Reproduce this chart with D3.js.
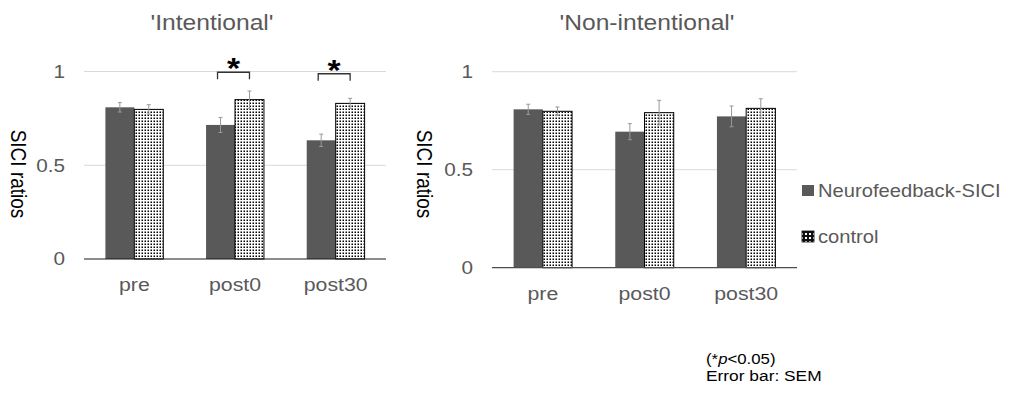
<!DOCTYPE html>
<html>
<head>
<meta charset="utf-8">
<script src="https://cdn.jsdelivr.net/npm/d3@7"></script>
<style>
  html, body { margin: 0; padding: 0; background: #fff; }
  svg { display: block; font-family: "Liberation Sans", Arial, sans-serif; }
</style>
</head>
<body>
<svg id="chart" width="1010" height="393"></svg>
<script>
// ---------- data ----------
const categories = ["pre", "post0", "post30"];
const seriesNames = ["Neurofeedback-SICI", "control"];
const yTicks = [0, 0.5, 1];

const intentionalNF = [0.809, 0.715, 0.633];
const intentionalCtrl = [0.798, 0.850, 0.830];
const intentionalNFErr = [0.025, 0.040, 0.033];
const intentionalCtrlErr = [0.025, 0.046, 0.027];

const nonIntNF = [0.808, 0.694, 0.772];
const nonIntCtrl = [0.798, 0.791, 0.813];
const nonIntNFErr = [0.026, 0.041, 0.053];
const nonIntCtrlErr = [0.022, 0.063, 0.049];

const sigCategories = ["post0", "post30"];
const sigBracketY = [0.996, 0.988];

const panelTitles = ["'Intentional'", "'Non-intentional'"];
const yLabel = "SICI ratios";

// ---------- setup ----------
const SX = 1.12; // horizontal text stretch
const svg = d3.select("#chart");
const defs = svg.append("defs");

const pat = defs.append("pattern").attr("id", "dots")
  .attr("patternUnits", "userSpaceOnUse").attr("width", 3).attr("height", 3);
pat.append("rect").attr("width", 3).attr("height", 3).attr("fill", "#fff");
pat.append("rect").attr("x", 0.5).attr("y", 0.5).attr("width", 1.5).attr("height", 1.5).attr("fill", "#000");

const lpat = defs.append("pattern").attr("id", "ldots")
  .attr("patternUnits", "userSpaceOnUse").attr("width", 4).attr("height", 4);
lpat.append("rect").attr("width", 4).attr("height", 4).attr("fill", "#111");
lpat.append("rect").attr("x", 1).attr("y", 1).attr("width", 2).attr("height", 2).attr("fill", "#fff");

function stext(sel, x, y, str, size, color, anchor, extra) {
  return sel.append("text")
    .attr("transform", `translate(${x},${y}) scale(${SX},1)` + (extra || ""))
    .attr("text-anchor", anchor || "start")
    .attr("font-size", size)
    .attr("fill", color)
    .text(str);
}

const panels = [
  { title: panelTitles[0], nf: intentionalNF, ctrl: intentionalCtrl, nfErr: intentionalNFErr, ctrlErr: intentionalCtrlErr,
    x0: 84, x1: 386, y0: 259, y1: 71.5, titleX: 212, ylabX: 11, base: "#1a1a1a", sig: true },
  { title: panelTitles[1], nf: nonIntNF, ctrl: nonIntCtrl, nfErr: nonIntNFErr, ctrlErr: nonIntCtrlErr,
    x0: 492, x1: 797, y0: 267.7, y1: 71.7, titleX: 647, ylabX: 417, base: "#4d4d4d", sig: false }
];

panels.forEach(p => {
  const g = svg.append("g");
  const x = d3.scaleBand().domain(categories).range([p.x0, p.x1]).padding(0);
  const y = d3.scaleLinear().domain([0, 1]).range([p.y0, p.y1]);
  const groupW = x.bandwidth() * 0.575;
  const xs = d3.scaleBand().domain(seriesNames)
    .range([(x.bandwidth() - groupW) / 2, (x.bandwidth() + groupW) / 2]).padding(0);

  // gridlines
  g.selectAll("line.grid").data(yTicks.filter(t => t > 0)).join("line")
    .attr("x1", p.x0).attr("x2", p.x1)
    .attr("y1", d => y(d)).attr("y2", d => y(d))
    .attr("stroke", "#d9d9d9").attr("stroke-width", 1);

  // y tick labels
  const yAxis = g.append("g").attr("transform", `translate(${p.x0},0)`)
    .call(d3.axisLeft(y).tickValues(yTicks).tickSize(0).tickPadding(17).tickFormat(d3.format("")));
  yAxis.select(".domain").remove();
  yAxis.selectAll("text").attr("font-size", 18.5).attr("fill", "#595959")
    .attr("font-family", "Liberation Sans, Arial, sans-serif")
    .attr("transform", `scale(${SX},1)`);

  // data rows
  const rows = categories.map((c, i) => [
    { cat: c, s: seriesNames[0], v: p.nf[i], e: p.nfErr[i] },
    { cat: c, s: seriesNames[1], v: p.ctrl[i], e: p.ctrlErr[i] }
  ]).flat();

  // bars
  g.selectAll("rect.bar").data(rows).join("rect")
    .attr("x", d => x(d.cat) + xs(d.s))
    .attr("y", d => y(d.v))
    .attr("width", xs.bandwidth())
    .attr("height", d => y(0) - y(d.v))
    .attr("fill", d => d.s === seriesNames[0] ? "#595959" : "url(#dots)")
    .attr("stroke", d => d.s === seriesNames[0] ? "none" : "#000")
    .attr("stroke-width", 1);

  // error bars
  const eb = g.selectAll("g.eb").data(rows).join("g")
    .attr("transform", d => `translate(${x(d.cat) + xs(d.s) + xs.bandwidth() / 2},0)`);
  eb.append("line").attr("y1", d => y(d.v + d.e)).attr("y2", d => y(d.v - d.e))
    .attr("stroke", "#999").attr("stroke-width", 1);
  eb.append("line").attr("x1", -2).attr("x2", 2).attr("y1", d => y(d.v + d.e)).attr("y2", d => y(d.v + d.e))
    .attr("stroke", "#999").attr("stroke-width", 1);
  eb.append("line").attr("x1", -2).attr("x2", 2).attr("y1", d => y(d.v - d.e)).attr("y2", d => y(d.v - d.e))
    .attr("stroke", "#999").attr("stroke-width", 1);

  // baseline
  g.append("line").attr("x1", p.x0).attr("x2", p.x1).attr("y1", y(0)).attr("y2", y(0))
    .attr("stroke", p.base).attr("stroke-width", 1.2);

  // x labels
  const xAxis = g.append("g").attr("transform", `translate(0,${y(0)})`)
    .call(d3.axisBottom(x).tickSize(0).tickPadding(19));
  xAxis.select(".domain").remove();
  xAxis.selectAll("text").attr("font-size", 19).attr("fill", "#595959")
    .attr("font-family", "Liberation Sans, Arial, sans-serif")
    .attr("transform", `scale(${SX},1)`);

  // title
  stext(g, p.titleX, 30, p.title, 22, "#595959", "middle");

  // y label
  stext(g, p.ylabX, 174, yLabel, 19, "#000", "middle", " rotate(90)");

  // significance brackets
  if (p.sig) {
    sigCategories.forEach((c, i) => {
      const xa = x(c) + xs(seriesNames[0]) + xs.bandwidth() / 2 - 3;
      const xb = x(c) + xs(seriesNames[1]) + xs.bandwidth() / 2;
      const yb = y(sigBracketY[i]);
      g.append("path")
        .attr("d", `M${xa},${yb + 7}V${yb}H${xb}V${yb + 7}`)
        .attr("fill", "none").attr("stroke", "#333").attr("stroke-width", 1.3);
      g.append("text")
        .attr("transform", `translate(${(xa + xb) / 2},${yb + 6}) scale(${SX},1)`)
        .attr("text-anchor", "middle").attr("font-size", 30).attr("font-weight", "bold")
        .attr("fill", "#000").text("*");
    });
  }
});

// legend
const leg = svg.append("g");
const legY = [191, 237];
seriesNames.forEach((s, i) => {
  leg.append("rect").attr("x", 802).attr("y", legY[i] - 6).attr("width", 12).attr("height", 11)
    .attr("fill", i === 0 ? "#595959" : "url(#ldots)")
    .attr("stroke", i === 0 ? "none" : "#111").attr("stroke-width", 0.8);
  stext(leg, 818, legY[i] + 6, s, 18, "#595959", "start");
});

// footnote
const fn = svg.append("text")
  .attr("transform", `translate(706,364) scale(${SX},1)`)
  .attr("font-size", 15).attr("fill", "#000");
fn.append("tspan").text("(*");
fn.append("tspan").attr("font-style", "italic").text("p");
fn.append("tspan").text("<0.05)");
stext(svg, 706, 381, "Error bar: SEM", 15.5, "#000", "start");
</script>
</body>
</html>
